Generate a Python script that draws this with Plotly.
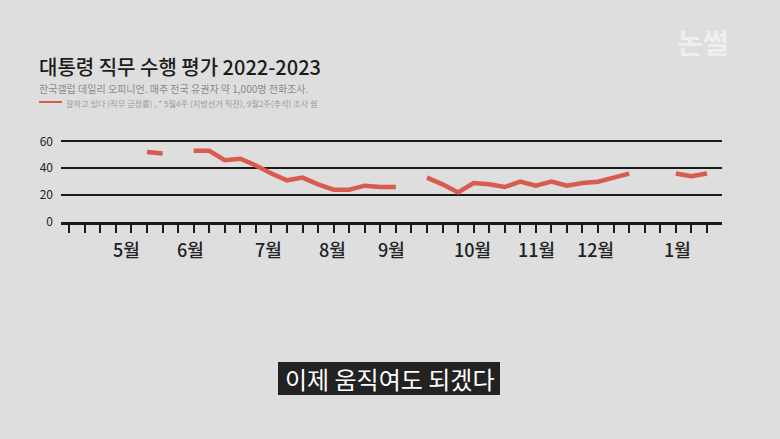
import plotly.graph_objects as go

# ---- data ----
week_index = list(range(42))
approval = [None, None, None, None, None, 52, 51, None, 53, 53, 46, 47, 42, 36,
            31, 33, 28, 24, 24, 27, 26, 26, None, 33, 28, 22, 29, 28, 26, 30,
            27, 30, 27, 29, 30, 33, 36, None, None, 36, 34, 36]
month_labels = ["5월", "6월", "7월", "8월", "9월", "10월", "11월", "12월", "1월"]
month_pos = [3.7, 7.8, 12.8, 16.9, 20.75, 25.9, 30.05, 33.85, 39.1]
y_ticks = [0, 20, 40, 60]

W, H = 780, 439
L, R, T, B = 61, 58, 138, 217
PW, PH = W - L - R, H - T - B

def px(x):
    return (x - L) / PW

def py(y):
    return (H - B - y) / PH

FONT = "Noto Sans CJK KR"
RED = "#d95a4e"
BG = "#dedede"

fig = go.Figure()
fig.add_trace(go.Scatter(
    x=week_index, y=approval, mode="lines",
    line=dict(color=RED, width=4.5), connectgaps=False,
    hoverinfo="skip", showlegend=False))

annotations = []
for lab, pos in zip(month_labels, month_pos):
    annotations.append(dict(x=pos, y=py(249), xref="x", yref="paper", text=lab,
                            showarrow=False, xanchor="center", yanchor="middle",
                            font=dict(family=FONT, size=18, color="#222", weight=500)))

annotations += [
    dict(x=px(38), y=py(67), xref="paper", yref="paper",
         text="대통령 직무 수행 평가 2022-2023", showarrow=False,
         xanchor="left", yanchor="middle", borderpad=0,
         font=dict(family=FONT, size=20, color="#1c1c1c", weight=500)),
    dict(x=px(38), y=py(88), xref="paper", yref="paper",
         text="한국갤럽 데일리 오피니언. 매주 전국 유권자 약 1,000명 전화조사.",
         showarrow=False, xanchor="left", yanchor="middle", borderpad=0,
         font=dict(family=FONT, size=10, color="#8a8a8a")),
    dict(x=px(65), y=py(102.5), xref="paper", yref="paper",
         text="잘하고 있다 (직무 긍정률) , * 5월4주 (지방선거 직전), 9월2주(추석) 조사 쉼",
         showarrow=False, xanchor="left", yanchor="middle", borderpad=0,
         font=dict(family=FONT, size=8.2, color="#9a9a9a")),
    dict(x=px(703), y=py(42), xref="paper", yref="paper", text="<b>논썰</b>",
         showarrow=False, xanchor="center", yanchor="middle",
         font=dict(family=FONT, size=28, color="#efefef")),
    dict(x=px(389), y=py(378.5), xref="paper", yref="paper",
         text="이제 움직여도 되겠다", showarrow=False,
         xanchor="center", yanchor="middle", borderpad=0,
         font=dict(family=FONT, size=24, color="#ffffff")),
]

shapes = [
    dict(type="line", xref="paper", yref="paper",
         x0=px(39), x1=px(62), y0=py(102), y1=py(102),
         line=dict(color=RED, width=2)),
    dict(type="rect", xref="paper", yref="paper", layer="below",
         x0=px(278), x1=px(500), y0=py(395), y1=py(362),
         fillcolor="#222222", line=dict(width=0)),
]

fig.update_layout(
    width=W, height=H,
    margin=dict(l=L, r=R, t=T, b=B),
    paper_bgcolor=BG, plot_bgcolor=BG,
    annotations=annotations, shapes=shapes,
    xaxis=dict(range=[-0.53, 41.97], tickvals=week_index,
               ticktext=["" for _ in week_index],
               ticks="outside", ticklen=8, tickwidth=2, tickcolor="#1a1a1a",
               showline=True, linecolor="#1a1a1a", linewidth=2.5,
               showgrid=False, zeroline=False, fixedrange=True),
    yaxis=dict(range=[0, PH / 1.345], tickvals=y_ticks,
               showgrid=True, gridcolor="#1a1a1a", gridwidth=2,
               zeroline=False, showline=False, ticks="",
               ticklabelstandoff=7, fixedrange=True,
               tickfont=dict(family=FONT, size=12, color="#222")),
)

fig.write_html("out.html", config={"displayModeBar": False},
               post_script="document.body.style.margin='0';document.body.style.background='%s';" % BG)
